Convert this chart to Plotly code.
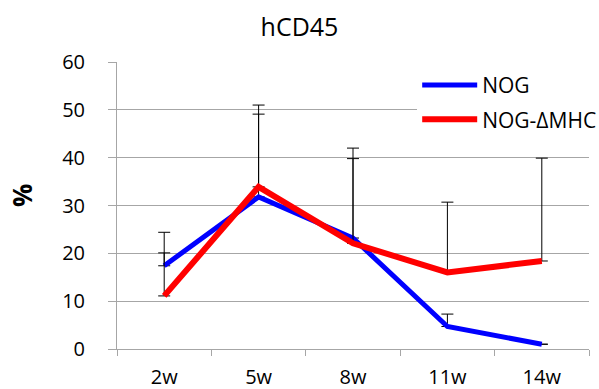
import plotly.graph_objects as go

weeks = ["2w", "5w", "8w", "11w", "14w"]
nog = [17.4, 31.8, 23.2, 4.7, 1.0]
nog_err = [2.7, 17.3, 18.8, 2.6, None]
nog_dmhc = [11.1, 33.9, 22.1, 16.0, 18.4]
nog_dmhc_err = [13.3, 17.1, 17.7, 14.7, 21.5]
y_ticks = [0, 10, 20, 30, 40, 50, 60]

FONT = "Open Sans"
GRID = "#a6a6a6"

fig = go.Figure()
fig.add_trace(go.Scatter(
    x=weeks, y=nog, name="NOG", mode="lines", legendgroup="a",
    line=dict(color="#0000ff", width=5),
    error_y=dict(type="data", array=nog_err, arrayminus=[0] * 5, symmetric=False,
                 color="black", thickness=1, width=6),
))
fig.add_trace(go.Scatter(
    x=weeks, y=nog_dmhc, name="NOG-ΔMHC", mode="lines", legendgroup="b",
    line=dict(color="#ff0000", width=6),
    error_y=dict(type="data", array=nog_dmhc_err, arrayminus=[0] * 5, symmetric=False,
                 color="black", thickness=1, width=6),
))

fig.update_layout(
    width=599, height=389,
    margin=dict(l=117, r=10, t=62, b=40, autoexpand=False),
    paper_bgcolor="white", plot_bgcolor="white",
    font=dict(family=FONT, size=20, color="black"),
    title=dict(text="hCD45", x=0.5, xref="container", xanchor="center",
               y=0.93, yref="container", yanchor="middle",
               font=dict(family=FONT, size=25, color="black")),
    showlegend=True,
    legend=dict(x=0.636, xanchor="left", y=0.99, yanchor="top",
                bgcolor="white", borderwidth=0, itemwidth=55,
                traceorder="grouped", tracegroupgap=4,
                font=dict(family=FONT, size=21, color="black"),
                itemclick=False, itemdoubleclick=False),
    xaxis=dict(type="category", range=[-0.5, 4.5], tickson="boundaries",
               showline=True, linecolor=GRID, linewidth=1,
               ticks="outside", ticklen=6, tickcolor=GRID,
               showgrid=False, ticklabelstandoff=10,
               tickfont=dict(family=FONT, size=20, color="black")),
    yaxis=dict(range=[0, 60], tickvals=y_ticks, showgrid=True, gridcolor=GRID, gridwidth=1,
               showline=True, linecolor=GRID, linewidth=1, zeroline=False,
               ticks="outside", ticklen=8, tickcolor=GRID, ticklabelstandoff=19,
               tickfont=dict(family=FONT, size=20, color="black")),
    annotations=[dict(text="<b>%</b>", textangle=-90, x=-0.2013, y=0.5366,
                      xref="paper", yref="paper", xanchor="center", yanchor="middle",
                      showarrow=False,
                      font=dict(family=FONT, size=26, color="black"))],
)

fig.write_html("out.html", config={"displayModeBar": False},
               post_script="document.body.style.margin='0';document.body.style.overflow='hidden';")
